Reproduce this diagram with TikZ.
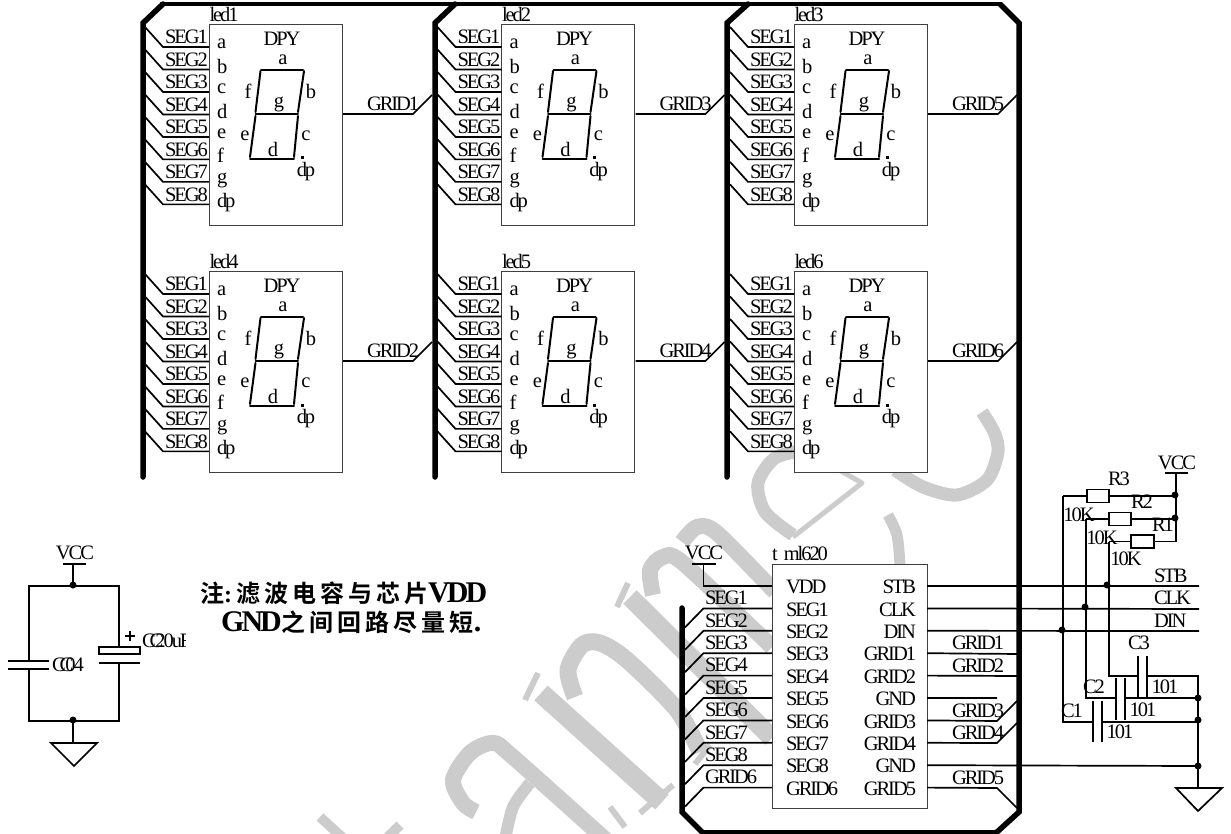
\documentclass[tikz,border=0pt]{standalone}
\usepackage{fontspec}
\setmainfont[LetterSpace=-10]{Liberation Serif}
\newfontfamily\cjkfont{Noto Sans CJK SC}[BoldFont=* Bold]
\newfontfamily\cjkwide{Noto Sans CJK SC}[BoldFont=* Bold,LetterSpace=16.67]
\tikzset{
  wire/.style={line width=1.7pt,line join=miter},
  busline/.style={line width=5.5pt,line cap=round,line join=miter},
  topline/.style={line width=3.5pt},
  partbox/.style={draw=black!75,line width=.8pt,fill=white,inner sep=0pt,outer sep=0pt,anchor=north west},
  seg/.style={line width=2pt,line cap=round},
  junction/.style={circle,fill=black,inner sep=0pt,minimum size=7pt},
  lab/.style={inner sep=0pt,outer sep=0pt,font=\fontsize{20.5}{20.5}\selectfont},
  labl/.style={lab,anchor=west},
  labr/.style={lab,anchor=east},
  res/.style={draw=black,fill=white,line width=1.7pt,inner sep=0pt,outer sep=0pt,minimum width=22.5pt,minimum height=13pt},
  wm/.style={draw=black!20,line cap=butt,line join=round},
}
\usetikzlibrary{calc}
\newcommand\ledmod[4]{%
 \begin{scope}[shift={(#2,#3)}]
  \node[partbox,minimum width=133pt,minimum height=201pt] (#1box) at (209,24) {};
  \node[lab,anchor=west] (#1name) at (209.5,14) {#1};
  \node[lab] (#1dpy) at (282,39) {DPY};
  \foreach \i/\n/\ly/\sn in {1/a/44/SEG1,2/b/66/SEG2,3/c/89/SEG3,4/d/111/SEG4,5/e/134/SEG5,6/f/155.5/SEG6,7/g/180/SEG7,8/dp/203/SEG8}{
    \pgfmathsetmacro\py{47+(\i-1)*22.48}
    \coordinate (#1p\i) at (209,\py);
    \coordinate (#1k\i) at (163,\py);
    \coordinate (#1s\i) at (145,\py-20);
    \draw[wire] (#1s\i) -- (#1k\i) -- (#1p\i);
    \node[labl] (#1sl\i) at (165,\py-10) {\sn};
    \node[labl] (#1pl\i) at (217,\ly) {\n};
  }
  \coordinate (#1A) at (261,70);\coordinate (#1B) at (303,70);
  \coordinate (#1F) at (255.5,114);\coordinate (#1G) at (298,114);
  \coordinate (#1E) at (250,159);\coordinate (#1C) at (294,159);
  \draw[seg] (#1A)--(#1B) (#1F)--(#1G) (#1E)--(#1C);
  \draw[seg] ($(#1A)+(-.5,1)$)--($(#1F)+(0,-2)$) ($(#1F)+(0,2)$)--($(#1E)+(0,-2)$);
  \draw[seg] ($(#1B)+(1,1)$)--($(#1G)+(0,-2)$) ($(#1G)+(0,2)$)--($(#1C)+(0,-2)$);
  \fill (300.5,156.5) rectangle (303.5,159.5);
  \node[lab] (#1la) at (283,60) {a};
  \node[lab] (#1lf) at (248,91) {f};
  \node[lab] (#1lb) at (311,91) {b};
  \node[lab] (#1lg) at (279,104) {g};
  \node[lab] (#1le) at (245,136) {e};
  \node[lab] (#1lc) at (306,136) {c};
  \node[lab] (#1ld) at (273,149) {d};
  \node[lab] (#1ldp) at (306,172) {dp};
  \coordinate (#1g0) at (343,114);\coordinate (#1g1) at (413,114);\coordinate (#1g2) at (432,95);
  \draw[wire] (#1g0)--(#1g1)--(#1g2);
  \node[labl] (#1gl) at (367,104) {#4};
 \end{scope}}
\begin{document}
\begin{tikzpicture}[x=1pt,y=-1pt]
\useasboundingbox (0,0) rectangle (1231,834);
\begin{scope}
\clip (0,0) rectangle (1231,834);
% watermark
\draw[wm,line width=13pt] plot[smooth] coordinates {(982,412)(994,432)(998,452)(987,480)(957,495)(923,487)(895,470)};
\draw[wm,line width=13pt] plot[smooth] coordinates {(805,450)(775,458)(758,483)(765,512)(793,535)};
\draw[wm,line width=5pt] (793,537)--(862,483)--(825,462);
\draw[wm,line width=11pt] plot[smooth] coordinates {(888,515)(897,535)(900,565)};
\draw[wm,line width=19pt] (630,597)--(772,738);
\draw[wm,line width=6pt] (628,583)--(617,607);
\draw[wm,line width=16pt] plot[smooth] coordinates {(653,595)(650,570)(663,557)(683,563)(772,647)};
\draw[wm,line width=16pt] plot[smooth] coordinates {(682,542)(697,527)(717,533)(775,592)};
\draw[wm,line width=20pt] (541,693)--(662,802);
\draw[wm,line width=6pt] (525,700)--(538,673) (640,813)--(673,785);
\draw[wm,line width=17pt] plot[smooth] coordinates {(575,697)(568,670)(582,645)(600,643)(627,660)(677,710)(700,752)};
\draw[wm,line width=6pt] (695,764)--(710,745);
\draw[wm,line width=16pt] plot[smooth] coordinates {(476,812)(463,803)(453,780)(470,753)(493,743)(513,757)(617,850)};
\draw[wm,line width=12pt] plot[smooth] coordinates {(530,783)(513,807)(505,840)};
\draw[wm,line width=6pt] (610,807)--(625,827);
\draw[wm,line width=10pt] (320,817)--(343,838) (400,825)--(385,840);
\end{scope}
% buses
\draw[busline] (143,477)--(143,23)--(163,4);
\draw[busline] (435,477)--(435,23)--(455,4);
\draw[busline] (727,477)--(727,23)--(748,4);
\draw[topline] (160,4)--(1002,4);
\coordinate (cornerTR) at (1000,4);
\draw[busline,line cap=butt] (cornerTR)--(1019,23)--(1019,812)--(997,832);
\draw[busline] (682,608)--(682,812)--(702,832);
\draw[topline] (700,832)--(999,832);
\ledmod{led1}{0}{0}{GRID1}
\ledmod{led2}{292.5}{0}{GRID3}
\ledmod{led3}{585}{0}{GRID5}
\ledmod{led4}{0}{247}{GRID2}
\ledmod{led5}{292.5}{247}{GRID4}
\ledmod{led6}{585}{247}{GRID6}
% chip
\node[partbox,minimum width=155pt,minimum height=244pt] (chip) at (772,564) {};
\node[labl] (chipname) at (772,553) {t\hspace{3pt} ml620};
\foreach \i/\l/\r in {0/VDD/STB,1/SEG1/CLK,2/SEG2/DIN,3/SEG3/GRID1,4/SEG4/GRID2,5/SEG5/GND,6/SEG6/GRID3,7/SEG7/GRID4,8/SEG8/GND,9/GRID6/GRID5}{
  \pgfmathsetmacro\py{586+\i*22.4}
  \coordinate (cl\i) at (772,\py);
  \coordinate (cr\i) at (927,\py);
  \coordinate (ck\i) at (703.5,\py);
  \coordinate (cd\i) at (685,\py+19);
  \node[labl] (cln\i) at (786,\py+1) {\l};
  \node[labr] (crn\i) at (916,\py+1) {\r};
}
\foreach \i in {1,...,9}{\draw[wire] (cd\i)--(ck\i)--(cl\i);}
\foreach \i/\n in {1/SEG1,2/SEG2,3/SEG3,4/SEG4,5/SEG5,6/SEG6,7/SEG7,8/SEG8,9/GRID6}{
  \pgfmathsetmacro\py{598+(\i-1)*22.4}
  \node[labl] (oln\i) at (705,\py) {\n};
}
% chip VCC
\coordinate (vc1) at (692,564);\coordinate (vc2) at (716,564);\coordinate (vc3) at (703.5,564);
\draw[wire] (vc1)--(vc2) (vc3)--(ck0)--(cl0);
\node[lab] (vcn) at (704,553) {VCC};
% right side wires
\coordinate (stbE) at (1199,586);\coordinate (clkE) at (1199,609);\coordinate (dinE) at (1199,631);
\draw[wire] (cr0)--(stbE) (cr1)--(clkE) (cr2)--(dinE);
\coordinate (g1E) at (1019,654);\coordinate (g2E) at (1019,676);
\draw[wire] (cr3)--(g1E) (cr4)--(g2E);
\coordinate (gndE) at (997,698);
\draw[wire] (cr5)--(gndE);
\coordinate (g3K) at (997,721);\coordinate (g3E) at (1017,701);
\coordinate (g4K) at (997,743);\coordinate (g4E) at (1017,723);
\draw[wire] (cr6)--(g3K)--(g3E) (cr7)--(g4K)--(g4E);
\coordinate (g5K) at (997,788);\coordinate (g5E) at (1017,808);
\draw[wire] (cr9)--(g5K)--(g5E);
\node[labl] (rg1) at (952,643) {GRID1};
\node[labl] (rg2) at (952,666) {GRID2};
\node[labl] (rg3) at (952,711) {GRID3};
\node[labl] (rg4) at (952,733) {GRID4};
\node[labl] (rg5) at (952,778) {GRID5};
% pull-ups
\node[lab] (vccr) at (1177,463) {VCC};
\coordinate (vr1) at (1165,473);\coordinate (vr2) at (1188,473);\coordinate (vr3) at (1176,473);
\coordinate (vr4) at (1176,541.5);
\draw[wire] (vr1)--(vr2) (vr3)--(vr4);
\coordinate (r3L) at (1063,496);\coordinate (r3R) at (1176,496);
\coordinate (r2L) at (1086,519);\coordinate (r2R) at (1176,519);
\coordinate (r1L) at (1109,541.5);
\draw[wire] (r3L)--(r3R) (r2L)--(r2R) (r1L)--(vr4);
\node[res] (R3) at (1098,496) {};
\node[res] (R2) at (1120,519) {};
\node[res] (R1) at (1142.5,541.5) {};
\node[lab] (R3n) at (1119,479) {R3};
\node[lab] (R2n) at (1142,502) {R2};
\node[lab] (R1n) at (1163,525) {R1};
\node[lab] (R3v) at (1079,515) {10K};
\node[lab] (R2v) at (1102,538) {10K};
\node[lab] (R1v) at (1126,559) {10K};
\node[labl] (stbn) at (1154,576) {STB};
\node[labl] (clkn) at (1154,598) {CLK};
\node[labl] (dinn) at (1154,621) {DIN};
% cap network
\coordinate (c1B) at (1063,722);\coordinate (c2B) at (1086,698);\coordinate (c3B) at (1109,676);
\coordinate (c1R) at (1198,722);\coordinate (c2R) at (1198,698);\coordinate (c3R) at (1198,676);
\coordinate (gndR) at (1198,788);
\draw[wire] (r3L)--(c1B)--(1093,722) (1102,722)--(c1R);
\draw[wire] (r2L)--(c2B)--(1116,698) (1125,698)--(c2R);
\draw[wire] (r1L)--(c3B)--(1138,676) (1147,676)--(c3R)--(gndR);
\draw[wire] (cr8)--(1198,766);
\draw[wire] (1093,701)--(1093,742) (1102,701)--(1102,742);
\draw[wire] (1116,678)--(1116,720) (1125,678)--(1125,720);
\draw[wire] (1138,656)--(1138,697) (1147,656)--(1147,697);
\draw[wire] (1176,788)--(1222,788)--(1198,811)--cycle;
\node[lab] (C3n) at (1139,643) {C3};
\node[lab] (C2n) at (1094,687) {C2};
\node[lab] (C1n) at (1072,711) {C1};
\node[lab] (C3v) at (1165,687) {101};
\node[lab] (C2v) at (1143,710) {101};
\node[lab] (C1v) at (1120,732) {101};
\foreach \p/\n in {1175/495,1175/518,1107/585,1085/607,1062/630,1198/698,1198/720,1198/766}{\node[junction] at (\p,\n) {};}
% decoupling
\node[lab] (vccl) at (75,553) {VCC};
\coordinate (vl1) at (63,564);\coordinate (vl2) at (86,564);\coordinate (vl3) at (73,564);\coordinate (vl4) at (73,586);
\draw[wire] (vl1)--(vl2) (vl3)--(vl4);
\draw[wire] (29,661)--(29,586)--(119,586)--(119,647);
\draw[wire] (29,669)--(29,721)--(119,721)--(119,663);
\draw[wire] (8,661)--(49,661) (8,669)--(49,669);
\draw[wire] (99,663)--(140,663);
\draw[wire,fill=white] (99,647) rectangle (140,654);
\draw[wire] (73,721)--(73,743);
\draw[wire] (51,743)--(97,743)--(74,766)--cycle;
\node[junction] at (73,585) {};
\node[junction] at (73,720) {};
\draw[line width=1.8pt] (125,636)--(135,636) (130,631)--(130,641);
\node[labl] (c104) at (52,665) {C\kern-6pt C\kern-8pt 04};
\begin{scope}
\clip (141,625) rectangle (185,655);
\node[labl] (c220) at (142,641) {C\kern-6pt C\kern-8pt 20uF};
\end{scope}
% note
\node[anchor=west,inner sep=0pt] (note1) at (200,593) {\bfseries{\fontsize{24}{24}\selectfont\cjkfont 注}{\fontsize{24}{24}\selectfont:}\hspace{4pt}{\fontsize{24}{24}\selectfont\cjkwide 滤波电容与芯片}{\fontsize{30}{30}\selectfont VDD}};
\node[anchor=west,inner sep=0pt] (note2) at (221,622) {\bfseries{\fontsize{30}{30}\selectfont GND}{\fontsize{24}{24}\selectfont\cjkwide 之间回路尽量短}{\fontsize{30}{30}\selectfont .}};
\end{tikzpicture}
\end{document}
